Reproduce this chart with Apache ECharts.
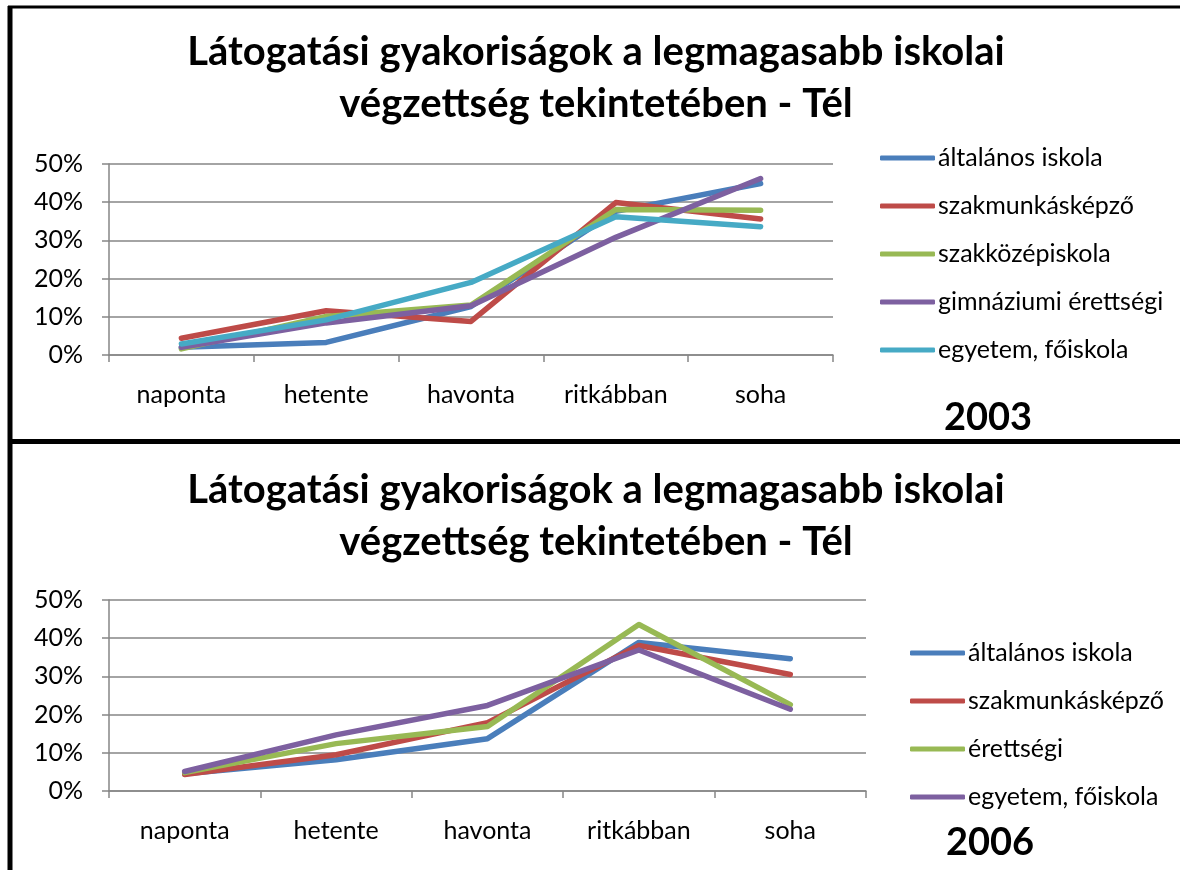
<!DOCTYPE html>
<html>
<head>
<meta charset="utf-8">
<script src="https://cdn.jsdelivr.net/npm/echarts@6/dist/echarts.min.js"></script>
<style>
  html, body { margin: 0; padding: 0; background: #fff; }
  #main { width: 1180px; height: 870px; }
</style>
</head>
<body>
<div id="main"></div>
<script>
// categories (x axis)
var categories = ["naponta", "hetente", "havonta", "ritkábban", "soha"];

// 2003 - values in %
var names2003 = ["általános iskola", "szakmunkásképző", "szakközépiskola", "gimnáziumi érettségi", "egyetem, főiskola"];
var altalanos2003 = [2.0, 3.3, 12.7, 37.6, 44.9];
var szakmunkas2003 = [4.4, 11.6, 8.8, 39.9, 35.6];
var szakkozep2003 = [1.6, 10.1, 13.1, 38.1, 37.9];
var gimnazium2003 = [2.0, 8.4, 12.9, 30.8, 46.2];
var egyetem2003 = [2.9, 9.2, 19.0, 36.2, 33.6];

// 2006 - values in %
var names2006 = ["általános iskola", "szakmunkásképző", "érettségi", "egyetem, főiskola"];
var altalanos2006 = [4.5, 8.2, 13.7, 38.9, 34.6];
var szakmunkas2006 = [4.3, 9.5, 17.9, 38.1, 30.5];
var erettsegi2006 = [4.8, 12.4, 16.9, 43.6, 22.6];
var egyetem2006 = [5.1, 14.7, 22.4, 36.9, 21.4];

var yTicks = { min: 0, max: 50, interval: 10 };

var colors2003 = ["#4A7EBB", "#BE4B48", "#98B954", "#7D60A0", "#46AAC5"];
var colors2006 = ["#4A7EBB", "#BE4B48", "#98B954", "#7D60A0"];

var FONT = "Lato";
var titleLine1 = "Látogatási gyakoriságok a legmagasabb iskolai";
var titleLine2 = "végzettség tekintetében - Tél";

function xAxisFor(gridIndex) {
  return {
    type: "category",
    gridIndex: gridIndex,
    data: categories,
    boundaryGap: true,
    axisLine: { lineStyle: { color: "#868686", width: 1.5 } },
    axisTick: { show: true, length: 7, lineStyle: { color: "#868686", width: 1.5 } },
    axisLabel: { color: "#000", fontFamily: FONT, fontSize: 25, margin: 27 }
  };
}

function yAxisFor(gridIndex) {
  return {
    type: "value",
    gridIndex: gridIndex,
    min: yTicks.min,
    max: yTicks.max,
    interval: yTicks.interval,
    axisLine: { show: true, lineStyle: { color: "#868686", width: 1.5 } },
    axisTick: { show: true, length: 7, lineStyle: { color: "#868686", width: 1.5 } },
    splitLine: { show: true, lineStyle: { color: "#868686", width: 1.5 } },
    axisLabel: { color: "#000", fontFamily: FONT, fontSize: 25, margin: 26, formatter: "{value}%" }
  };
}

function lineSeries(name, data, color, idx) {
  return {
    name: name,
    type: "line",
    xAxisIndex: idx,
    yAxisIndex: idx,
    data: data,
    symbol: "none",
    color: color,
    lineStyle: { width: 5.5, color: color, cap: "round", join: "round" }
  };
}

var series2003 = [altalanos2003, szakmunkas2003, szakkozep2003, gimnazium2003, egyetem2003];
var series2006 = [altalanos2006, szakmunkas2006, erettsegi2006, egyetem2006];

var series = [];
series2003.forEach(function (d, i) { series.push(lineSeries(names2003[i], d, colors2003[i], 0)); });
series2006.forEach(function (d, i) { series.push(lineSeries(names2006[i], d, colors2006[i], 1)); });

function legendFor(names, colors, left, top) {
  return {
    orient: "vertical",
    left: left,
    top: top,
    data: names.map(function (n, i) {
      return { name: n, itemStyle: { color: colors[i] } };
    }),
    icon: "roundRect",
    itemWidth: 55,
    itemHeight: 5,
    itemGap: 22,
    selectedMode: false,
    textStyle: { color: "#000", fontFamily: FONT, fontSize: 25, lineHeight: 26, padding: [0, 0, 0, -2] }
  };
}

function titleText(x, y, text, size) {
  return {
    type: "text", x: x, y: y,
    style: { text: text, fontFamily: FONT, fontWeight: "bold", fontSize: size, fill: "#000", align: "center", verticalAlign: "middle" }
  };
}

var myChart = echarts.init(document.getElementById("main"), null, { renderer: "canvas" });
myChart.setOption({
  animation: false,
  backgroundColor: "#fff",
  legend: [
    legendFor(names2003, colors2003, 875, 140),
    legendFor(names2006, colors2006, 905, 635)
  ],
  grid: [
    { left: 109, top: 164, width: 724, height: 191 },
    { left: 109, top: 600, width: 757, height: 191 }
  ],
  xAxis: [xAxisFor(0), xAxisFor(1)],
  yAxis: [yAxisFor(0), yAxisFor(1)],
  series: series,
  graphic: [
    // frame lines
    { type: "line", shape: { x1: 8, y1: 7, x2: 1180, y2: 7 }, style: { stroke: "#000", lineWidth: 3 } },
    { type: "line", shape: { x1: 10, y1: 6, x2: 10, y2: 870 }, style: { stroke: "#000", lineWidth: 5 } },
    { type: "line", shape: { x1: 8, y1: 441.5, x2: 1180, y2: 441.5 }, style: { stroke: "#000", lineWidth: 5 } },
    // chart titles
    titleText(596, 52, titleLine1, 40),
    titleText(596, 104, titleLine2, 40),
    titleText(596, 490, titleLine1, 40),
    titleText(596, 542, titleLine2, 40),
    // year labels
    titleText(988, 418, "2003", 38),
    titleText(990, 843, "2006", 38)
  ]
});
</script>
</body>
</html>
